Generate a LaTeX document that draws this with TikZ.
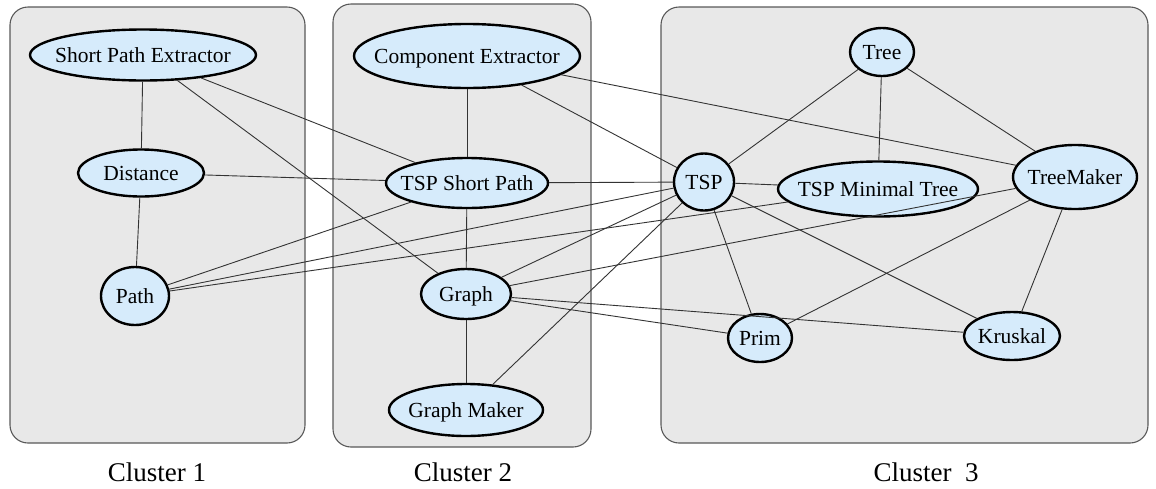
\documentclass[tikz,border=0pt]{standalone}
\usepackage{fontspec}
\setmainfont{Liberation Serif}
\usetikzlibrary{shapes.geometric}
\definecolor{modblue}{HTML}{D6EBFB}
\definecolor{clgray}{HTML}{E8E8E8}
\begin{document}
\begin{tikzpicture}[x=1pt,y=-1pt,cluster/.style={draw=black!65,fill=clgray,rounded corners=18pt,line width=1.1pt},mod/.style={shape=ellipse,draw=black,line width=2.4pt,fill=modblue,inner sep=0pt,text height=14.5pt,text depth=0pt,execute at begin node={\hbox to 0pt\bgroup\hss},execute at end node={\hss\egroup},font=\fontsize{21.5}{24}\selectfont},link/.style={draw=black!80,line width=0.9pt},clabel/.style={font=\fontsize{27}{30}\selectfont}]
\useasboundingbox (0,0) rectangle (1156,488);

\draw[cluster] (10,7) rectangle (305,443);
\draw[cluster] (333,4) rectangle (591,447);
\draw[cluster] (661,7) rectangle (1148,443);
\node[clabel] (lab1) at (157,472) {Cluster 1};
\node[clabel] (lab2) at (463,472) {Cluster 2};
\node[clabel] (lab3) at (926,472) {Cluster\ \ 3};

% cluster 1
\node[mod,minimum width=226,minimum height=51] (spe) at (143,55) {Short Path Extractor};
\node[mod,minimum width=126,minimum height=47] (dist) at (141,173) {Distance};
\node[mod,minimum width=68,minimum height=58] (path) at (135,296) {Path};
% cluster 2
\node[mod,minimum width=226,minimum height=64] (ce) at (467,56) {Component Extractor};
\node[mod,minimum width=162,minimum height=50] (tsppath) at (467,183) {TSP Short Path};
\node[mod,minimum width=90,minimum height=50] (graph) at (466,294) {Graph};
\node[mod,minimum width=154,minimum height=52] (gmaker) at (466,410) {Graph Maker};
% cluster 3
\node[mod,minimum width=64,minimum height=48] (tree) at (882,52) {Tree};
\node[mod,minimum width=60,minimum height=57] (tsp) at (704,182) {TSP};
\node[mod,minimum width=200,minimum height=55] (tspmin) at (878,189) {TSP Minimal Tree};
\node[mod,minimum width=124,minimum height=64] (tmaker) at (1075,177) {TreeMaker};
\node[mod,minimum width=64,minimum height=48] (prim) at (760,338) {Prim};
\node[mod,minimum width=96,minimum height=48] (kruskal) at (1012,336) {Kruskal};

\draw[link] (spe) -- (dist);
\draw[link] (dist) -- (path);
\draw[link] (spe) -- (tsppath);
\draw[link] (spe) -- (graph);
\draw[link] (dist) -- (tsppath);
\draw[link] (path) -- (tsppath);
\draw[link] (path) -- (tsp);
\draw[link] (path) -- (tspmin);
\draw[link] (ce) -- (tsppath);
\draw[link] (ce) -- (tsp);
\draw[link] (ce) -- (tmaker);
\draw[link] (tsppath) -- (graph);
\draw[link] (tsppath) -- (tsp);
\draw[link] (graph) -- (gmaker);
\draw[link] (graph) -- (tsp);
\draw[link] (graph) -- (tmaker);
\draw[link] (graph) -- (kruskal);
\draw[link] (graph) -- (prim);
\draw[link] (gmaker) -- (tsp);
\draw[link] (tsp) -- (tree);
\draw[link] (tsp) -- (tspmin);
\draw[link] (tsp) -- (prim);
\draw[link] (tsp) -- (kruskal);
\draw[link] (tree) -- (tspmin);
\draw[link] (tree) -- (tmaker);
\draw[link] (tmaker) -- (prim);
\draw[link] (tmaker) -- (kruskal);
\end{tikzpicture}
\end{document}
